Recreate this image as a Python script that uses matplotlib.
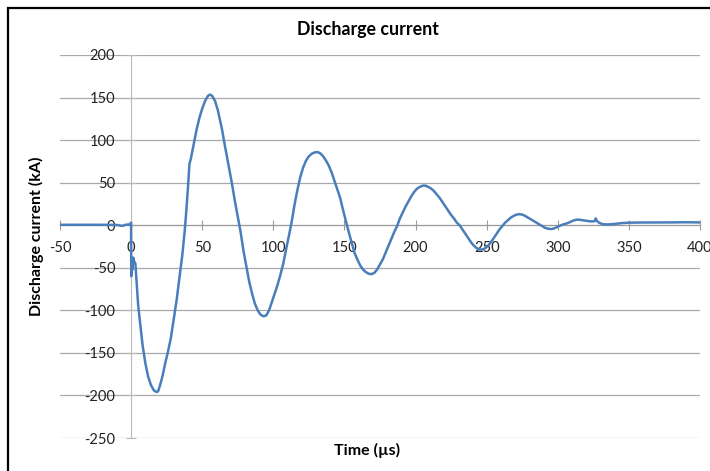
import matplotlib
matplotlib.use('Agg')
import matplotlib.pyplot as plt
from matplotlib.patches import Rectangle

time_us = [-50, -40, -30, -20, -10, -6, -4, -1, -0.3, 0,
           0.1, 0.5, 1, 1.5, 2, 3, 4, 5, 6, 8, 10, 12, 14, 16, 18, 19, 20,
           22, 24, 26, 28, 30, 32, 34, 36, 37.5, 38.5, 40, 41, 42, 44, 46, 48,
           50, 52, 54, 55.5, 57, 59, 61, 63, 64, 65, 67, 69, 71, 73, 75, 77, 79,
           81, 83, 85, 87, 89, 91, 93, 95, 97, 99, 101, 103, 105, 107, 109, 111,
           113, 115, 117, 119, 121, 123, 125, 127, 129, 131, 133, 135, 137, 139,
           141, 143, 145, 147, 149, 151, 153, 155, 157, 159, 161, 163, 165, 167,
           169, 171, 173, 175, 177, 179, 181, 183, 185, 187, 189, 191, 193, 195,
           197, 199, 201, 203, 205, 207, 209, 211, 213, 215, 217, 219, 221, 223,
           225, 227, 229, 231, 233, 235, 237, 239, 241, 243, 245, 247, 249, 251,
           253, 255, 257, 259, 261, 263, 265, 267, 269, 271, 273, 275, 277, 279,
           281, 283, 285, 287, 289, 291, 293, 295, 297, 299, 301, 303, 305, 307,
           309, 311, 313, 315, 317, 319, 321, 323, 325, 326, 326.7, 327.5, 329,
           331, 333, 336, 340, 345, 350, 360, 370, 380, 390, 400]
current_ka = [0.5, 0.5, 0.5, 0.5, 0.3, -0.8, 0.5, 1, 2.5, 3,
              -60, -45, -52, -38, -42, -45, -70, -95, -110, -140, -162, -178, -188, -194, -196, -195, -190,
              -178, -162, -148, -132, -110, -88, -62, -35, -10, 10, 45, 72, 78, 95, 112, 126,
              137, 146, 152, 153.5, 152, 146, 135, 120, 112, 102, 84, 66, 48, 28, 10, -8, -30,
              -48, -66, -80, -92, -100, -105, -107, -106, -100, -90, -80, -70, -58, -45, -28, -12,
              5, 25, 42, 57, 68, 76, 81, 84, 85.5, 86, 84.5, 81, 76, 70,
              62, 52, 42, 32, 18, 5, -8, -20, -32, -40, -47, -52, -55, -57,
              -57.5, -56, -52, -46, -40, -32, -24, -16, -8, -1, 8, 15, 22, 28,
              34, 39, 43, 45, 46.5, 46.5, 45, 43, 40, 36, 32, 27, 22, 17,
              12, 8, 3, 0, -5, -10, -15, -20, -24, -27, -28.5, -28.5, -27, -24,
              -20, -15, -10, -5, -1, 3, 6, 9, 11, 12.5, 13, 12.5, 11, 9,
              7, 5, 3, 1, -1, -3, -4, -4.5, -4, -2.5, -1, 0.5, 1.5, 2.5,
              4, 5.5, 6.5, 6.5, 6, 5.5, 5, 4.5, 4.5, 5, 8, 5, 3,
              1.5, 1, 1, 1.5, 2.5, 3, 3.2, 3.2, 3.3, 3.5, 3.3]

x_ticks = [-50, 0, 50, 100, 150, 200, 250, 300, 350, 400]
y_ticks = [-250, -200, -150, -100, -50, 0, 50, 100, 150, 200]

plt.rcParams['font.family'] = ['Lato', 'DejaVu Sans']
plt.rcParams['axes.unicode_minus'] = False

W, H = 710, 471
fig = plt.figure(figsize=(W / 100, H / 100), dpi=100)
ax = fig.add_axes([60 / W, 33 / H, 640 / W, 383 / H])

ax.plot(time_us, current_ka, color='#4a7ebb', lw=1.8, zorder=3,
        solid_joinstyle='round', solid_capstyle='round')
ax.set_xlim(-50, 400)
ax.set_ylim(-250, 200)
ax.set_xticks(x_ticks)
ax.set_yticks(y_ticks)

# Excel style: axes cross at the origin
ax.spines['left'].set_position(('data', 0))
ax.spines['bottom'].set_position(('data', 0))
ax.spines['top'].set_visible(False)
ax.spines['right'].set_visible(False)
ax.spines['left'].set_color('#b9b9b9')
ax.spines['bottom'].set_color('#9a9a9a')
ax.yaxis.grid(True, color='#a8a8a8', lw=0.9)
ax.set_axisbelow(True)

ax.tick_params(axis='x', direction='inout', length=7, color='#9a9a9a',
               labelsize=10.5, pad=8, labelcolor='#222222')
ax.tick_params(axis='y', direction='inout', length=7, color='#b9b9b9',
               labelsize=10.5, pad=8, labelcolor='#222222')

fig.text(368 / W, 1 - 30 / H, 'Discharge current', ha='center', va='center',
         fontsize=12.8, fontweight='bold')
fig.text(367 / W, 1 - 450 / H, 'Time (µs)', ha='center', va='center',
         fontsize=11.5, fontweight='bold')
fig.text(36 / W, 1 - 236 / H, 'Discharge current (kA)', ha='center', va='center',
         rotation=90, fontsize=11.5, fontweight='bold')

# chart border
fig.patches.append(Rectangle((8 / W, -0.1), 1.2, 1.1 - 8 / H, transform=fig.transFigure,
                             fill=False, edgecolor='black', lw=1.6))

fig.savefig('out.png', dpi=100)
